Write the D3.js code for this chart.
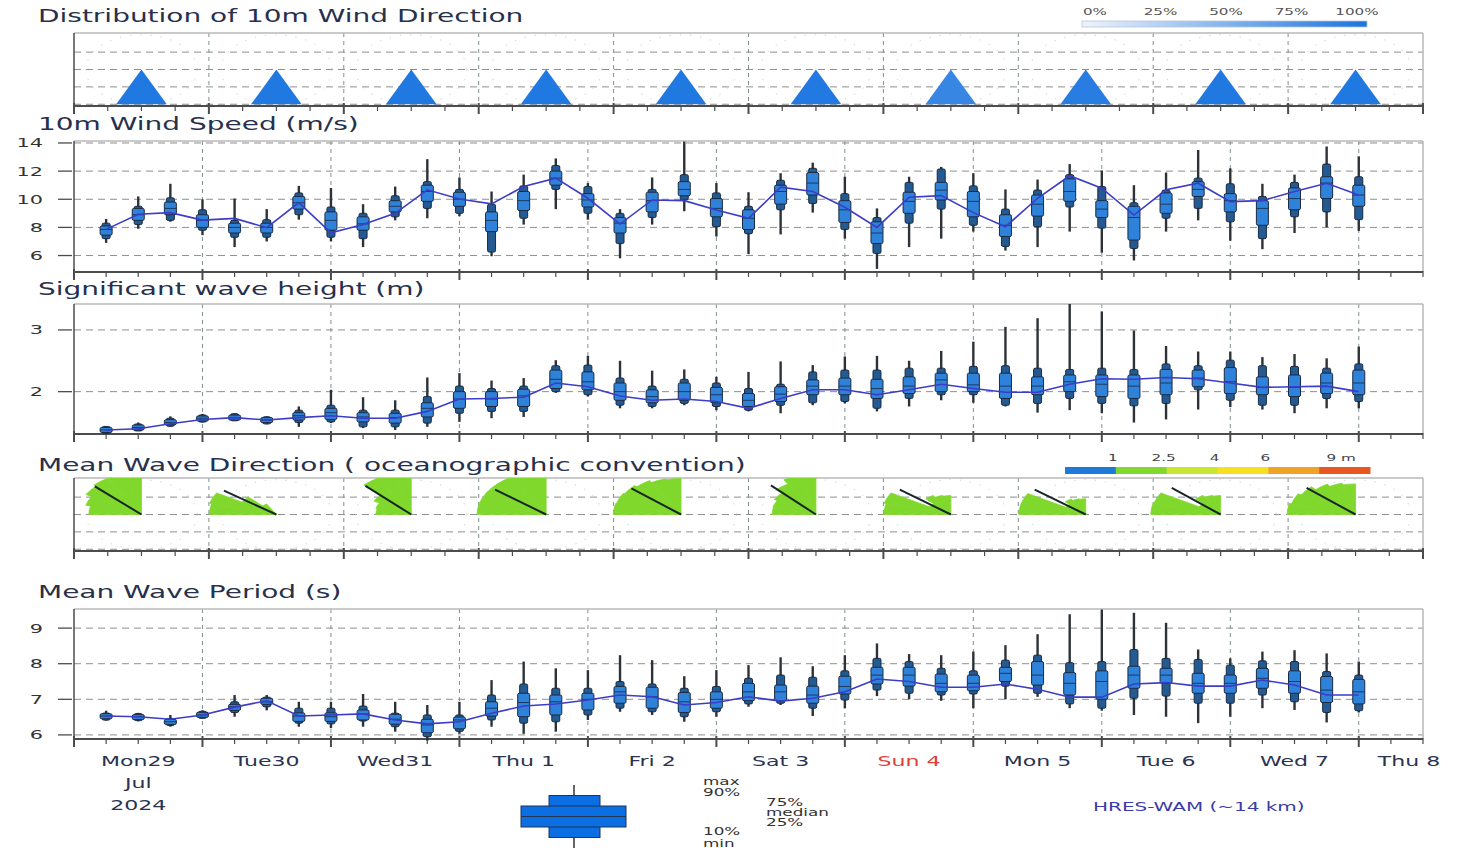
<!DOCTYPE html>
<html><head><meta charset="utf-8">
<script src="https://cdn.jsdelivr.net/npm/d3@7/dist/d3.min.js"></script>
<style>html,body{margin:0;padding:0;background:#fff;overflow:hidden}svg text{font-family:"DejaVu Sans",sans-serif}</style>
</head><body>
<svg id="chart" width="1458" height="848" xmlns="http://www.w3.org/2000/svg"></svg>
<script>
// ================= DATA =================
const runStart = "2024-07-29T00:00:00Z";
const runEnd   = "2024-08-08T12:00:00Z";
const leadHours = [6,12,18,24,30,36,42,48,54,60,66,72,78,84,90,96,102,108,114,120,
                   126,132,138,144,150,156,162,168,174,180,186,192,198,204,210,216,222,228,234,240];
const dayLabels = ["Mon29","Tue30","Wed31","Thu 1","Fri 2","Sat 3","Sun 4","Mon 5","Tue 6","Wed 7","Thu 8"];
const holidayLabels = ["Sun 4"];
const monthLabel = "Jul";
const yearLabel = "2024";

// 10m wind speed (m/s): ensemble quantiles + HRES
const windMin = [6.9,7.9,8.4,7.45,6.6,7.0,8.55,7.0,6.6,8.5, 8.65,8.8,5.95,8.2,9.3,8.55,5.8,8.2,9.15,7.35, 6.1,7.5,9.05,7.2,5.05,6.6,7.2,7.7,6.35,6.6, 7.7,6.2,5.65,7.7,8.5,7.05,6.45,7.6,8.0,7.75];
const windP10 = [7.2,8.2,8.5,7.8,7.3,7.3,8.9,7.3,7.2,8.75, 9.35,9.0,6.25,8.65,10.7,9.0,6.85,8.7,9.95,8.05, 7.55,9.25,9.7,7.85,6.15,8.3,9.3,8.15,6.65,8.05, 9.45,7.95,6.5,8.65,9.35,8.4,7.2,8.75,9.1,8.55];
const windP25 = [7.45,8.5,8.9,8.0,7.6,7.6,9.3,7.8,7.8,9.1, 9.85,9.5,7.7,9.2,11.0,9.45,7.6,9.1,10.25,8.75, 7.85,9.65,10.3,8.35,6.85,9.0,9.95,8.75,7.35,8.8, 9.85,8.7,7.1,9.0,10.2,9.1,8.15,9.25,10.05,9.5];
const windMed = [7.85,8.9,9.35,8.5,8.0,8.0,9.75,8.5,8.25,9.5, 10.55,10.0,8.5,9.9,11.5,9.95,8.3,9.9,10.7,9.35, 8.65,10.55,11.15,9.25,7.6,9.85,10.65,9.85,8.15,9.65, 10.55,9.3,8.7,9.65,10.7,9.9,9.35,10.05,11.15,10.3];
const windP75 = [8.1,9.35,9.8,8.9,8.3,8.3,10.2,9.1,8.75,9.9, 11.0,10.5,9.1,10.55,12.0,10.4,8.7,10.5,11.25,10.05, 9.25,11.0,11.9,9.9,8.4,10.5,11.2,10.55,8.9,10.3, 11.45,9.9,9.5,10.45,11.25,10.4,9.9,10.8,11.6,11.0];
const windP90 = [8.3,9.5,10.1,9.25,8.5,8.55,10.45,9.45,9.0,10.25, 11.25,10.7,9.65,10.95,12.4,10.9,9.0,10.7,11.75,10.45, 9.5,11.35,12.2,10.4,8.7,11.2,12.15,10.95,9.3,10.65, 11.75,10.9,9.75,10.65,11.5,11.1,10.2,11.2,12.5,11.6];
const windMax = [8.6,10.2,11.1,10.0,10.05,9.3,10.95,10.8,9.65,10.9, 12.85,11.55,10.55,11.75,12.9,11.15,9.3,11.55,14.1,11.15, 10.5,11.85,12.6,11.6,9.35,11.6,12.3,11.85,10.7,11.4, 12.5,12.05,11.0,11.9,13.5,12.2,11.1,11.75,13.75,13.05];
const windHres = [7.86,8.93,9.05,8.52,8.64,7.98,9.76,7.62,8.21,9.0, 10.67,10.02,9.67,10.9,11.5,10.07,8.24,9.95,9.9,9.24, 8.64,10.86,10.55,9.43,8.0,10.14,10.26,9.05,8.05,10.07, 11.67,10.79,8.88,10.67,11.14,9.83,9.9,10.55,11.14,10.3];
const windTicks = [6,8,10,12,14];

// Significant wave height (m)
const waveMin = [1.35,1.37,1.43,1.50,1.53,1.47,1.43,1.49,1.41,1.38, 1.43,1.51,1.57,1.59,1.98,1.92,1.73,1.73,1.78,1.70, 1.68,1.65,1.78,1.81,1.68,1.76,1.86,1.82,1.76,1.66, 1.70,1.65,1.50,1.55,1.71,1.75,1.71,1.65,1.73,1.73];
const waveP10 = [1.36,1.39,1.44,1.51,1.54,1.49,1.50,1.51,1.43,1.43, 1.49,1.65,1.68,1.68,2.00,1.95,1.78,1.76,1.81,1.76, 1.70,1.78,1.82,1.84,1.73,1.89,1.95,1.95,1.78,1.81, 1.89,1.81,1.77,1.81,2.03,1.86,1.78,1.78,1.89,1.84];
const waveP25 = [1.37,1.40,1.47,1.53,1.55,1.51,1.54,1.55,1.51,1.49, 1.59,1.73,1.76,1.76,2.05,2.03,1.86,1.82,1.86,1.82, 1.76,1.84,1.95,1.95,1.89,1.97,2.00,2.00,1.89,1.95, 2.00,1.92,1.89,1.95,2.08,1.97,1.95,1.92,1.97,1.95];
const waveMed = [1.38,1.42,1.50,1.57,1.58,1.54,1.61,1.66,1.59,1.58, 1.73,1.88,1.88,1.93,2.20,2.16,2.00,1.92,2.00,1.95, 1.86,1.96,2.09,2.09,2.05,2.09,2.19,2.11,2.09,2.09, 2.16,2.12,2.09,2.14,2.22,2.16,2.07,2.07,2.14,2.14];
const waveP75 = [1.39,1.44,1.54,1.60,1.61,1.57,1.66,1.73,1.66,1.65, 1.82,2.00,2.00,2.04,2.35,2.32,2.14,2.03,2.14,2.07, 1.97,2.08,2.19,2.22,2.20,2.24,2.30,2.30,2.30,2.24, 2.27,2.27,2.27,2.36,2.35,2.39,2.24,2.27,2.30,2.35];
const waveP90 = [1.40,1.45,1.57,1.62,1.63,1.58,1.70,1.78,1.70,1.70, 1.92,2.09,2.05,2.09,2.42,2.43,2.22,2.09,2.20,2.14, 2.05,2.12,2.32,2.35,2.35,2.38,2.38,2.41,2.42,2.38, 2.36,2.38,2.36,2.45,2.42,2.51,2.42,2.41,2.38,2.45];
const waveMax = [1.42,1.50,1.60,1.64,1.65,1.60,1.76,2.03,1.91,1.86, 2.23,2.30,2.18,2.22,2.51,2.58,2.50,2.34,2.36,2.24, 2.32,2.49,2.43,2.57,2.58,2.50,2.66,2.81,3.05,3.19, 3.42,3.30,2.99,2.74,2.65,2.65,2.56,2.61,2.54,2.73];
const waveHres = [1.38,1.40,1.48,1.55,1.58,1.54,1.58,1.61,1.57,1.57, 1.68,1.88,1.89,1.91,2.14,2.08,1.93,1.86,1.88,1.84, 1.73,1.89,2.03,2.03,1.95,2.03,2.12,2.05,1.99,1.99, 2.12,2.21,2.20,2.23,2.21,2.14,2.07,2.08,2.09,2.00];
const waveTicks = [2,3];

// Mean wave period (s)
const perMin = [6.40,6.38,6.23,6.46,6.51,6.69,6.23,6.19,6.23,6.09, 5.84,6.03,6.23,6.03,6.09,6.42,6.65,6.56,6.37,6.51, 6.79,6.84,6.53,6.75,7.09,7.00,6.96,6.75,7.00,7.07, 6.75,6.68,6.56,6.51,6.33,6.51,6.75,6.70,6.35,6.63];
const perP10 = [6.43,6.43,6.28,6.49,6.63,6.79,6.33,6.31,6.39,6.23, 5.95,6.10,6.42,6.33,6.37,6.56,6.75,6.65,6.51,6.65, 6.87,6.89,6.75,6.98,7.26,7.17,7.12,7.15,7.37,7.17, 6.87,6.75,7.03,7.09,6.89,6.89,7.12,6.93,6.63,6.68];
const perP25 = [6.47,6.45,6.33,6.51,6.69,6.86,6.38,6.38,6.42,6.30, 6.06,6.17,6.53,6.51,6.56,6.70,6.89,6.75,6.63,6.75, 6.96,6.96,6.89,7.15,7.43,7.37,7.21,7.24,7.50,7.40, 7.12,7.00,7.31,7.45,7.17,7.17,7.31,7.17,6.91,6.87];
const perMed = [6.53,6.51,6.37,6.56,6.79,6.93,6.53,6.51,6.59,6.44, 6.28,6.42,6.75,6.91,6.93,7.00,7.21,7.07,6.93,7.00, 7.21,7.21,7.12,7.36,7.68,7.68,7.45,7.45,7.73,7.68, 7.45,7.50,7.68,7.68,7.45,7.45,7.59,7.50,7.26,7.21];
const perP75 = [6.58,6.55,6.40,6.62,6.86,7.03,6.62,6.62,6.70,6.58, 6.44,6.50,6.93,7.17,7.12,7.17,7.36,7.34,7.19,7.21, 7.45,7.40,7.37,7.65,7.90,7.90,7.71,7.68,7.90,8.06, 7.75,7.80,7.93,7.87,7.73,7.68,7.87,7.80,7.64,7.56];
const perP90 = [6.60,6.57,6.45,6.64,6.93,7.06,6.75,6.75,6.81,6.61, 6.56,6.56,7.12,7.43,7.31,7.31,7.50,7.43,7.31,7.36, 7.59,7.68,7.62,7.80,8.15,8.06,7.87,7.80,8.10,8.24, 8.03,8.06,8.40,8.15,8.12,7.96,8.08,8.06,7.78,7.68];
const perMax = [6.68,6.62,6.56,6.69,7.12,7.12,6.93,6.93,7.15,6.93, 6.84,6.93,7.54,8.06,7.87,7.82,8.24,8.10,7.65,7.82, 7.96,8.18,7.93,8.24,8.57,8.27,8.24,8.34,8.52,8.83, 9.39,9.52,9.43,9.15,8.40,8.15,8.34,8.38,8.29,8.06];
const perHres = [6.53,6.51,6.44,6.56,6.78,6.96,6.53,6.56,6.59,6.42, 6.31,6.37,6.61,6.81,6.87,6.98,7.12,7.07,6.84,6.91, 7.07,6.95,7.03,7.21,7.57,7.50,7.34,7.34,7.43,7.28, 7.06,7.06,7.43,7.47,7.37,7.37,7.54,7.40,7.12,7.12];
const perTicks = [6,7,8,9];

// Daily 10m wind direction distribution (dominant sector, degrees; probability %)
const windDirMode   = [180,180,180,180,180,180,180,180,180,180];
const windDirSpread = [24.5,24.5,24.5,24.5,24.5,24.5,24.5,24.5,24.5,24.5];
const windDirProb   = [97,97,97,97,97,96,86,93,97,97];
const windLegendTicks = [0,25,50,75,100];

// Daily mean wave direction rose (15-degree sectors from 270 to 360, relative frequency %)
const waveRoseSectors = [270,285,300,315,330,345];
const waveRose = [
  [73,80,89,93,93,93],
  [93,96,55,27,0,0],
  [49,51,60,93,96,96],
  [96,96,96,96,96,96],
  [94,93,91,87,82,80],
  [61,62,67,78,89,93],
  [93,96,34,49,44,42],
  [93,93,32,40,36,35],
  [97,96,34,49,44,42],
  [95,92,87,78,72,68]
];
const waveDirHres = [314,306,315,308,310,316,308,308,311,311];
const waveClassBreaks = [1,2.5,4,6,9];
const waveClassLabels = ["1","2.5","4","6","9 m"];
const waveClassColors = ["#1f79d8","#80d82c","#c8e532","#f7df22","#f0a326","#e8571f"];

const legendQuantiles = ["min","10%","25%","median","75%","90%","max"];

// ================= DRAWING =================
const svg = d3.select("#chart");
svg.append("rect").attr("width",1458).attr("height",848).attr("fill","#fff");
const SX = 1.6;            // horizontal text stretch of the original graphic
const X0 = 74, X1 = 1423;
const GRID = "#8f8f8f", AXIS = "#4c4c4c", FRAME = "#b8b8b8", TITLE = "#27304c";

function label(g, x, y, s, size, fill, anchor) {
  return g.append("text")
    .attr("transform", `translate(${x},${y}) scale(${SX},1)`)
    .attr("font-size", size).attr("fill", fill || "#333")
    .attr("text-anchor", anchor || "start").text(s);
}

const t0 = new Date(runStart), t1 = new Date(runEnd);
const x = d3.scaleUtc().domain([t0, t1]).range([X0, X1]);
const times = leadHours.map(h => d3.utcHour.offset(t0, h));
const sixHourly = d3.utcHour.every(6).range(t0, d3.utcHour.offset(t1, 1));
const midnights = d3.utcDay.range(d3.utcHour.offset(t0, 1), d3.utcHour.offset(t1, 1));
const cell = d3.scaleBand().domain(dayLabels.slice(0, 10)).range([X0, X1]);
const cellCenter = d => cell(d) + cell.bandwidth() / 2;
const rScale = d3.scaleLinear().domain([0, 100]).range([0, 45]);

function bottomAxis(g, yb, ticks) {
  g.append("line").attr("x1", X0).attr("x2", X1).attr("y1", yb).attr("y2", yb)
    .attr("stroke", AXIS).attr("stroke-width", 2);
  g.selectAll(null).data(ticks).join("line")
    .attr("x1", d => d.x).attr("x2", d => d.x)
    .attr("y1", d => yb - (d.major ? 3 : 1)).attr("y2", d => yb + (d.major ? 8 : 5))
    .attr("stroke", AXIS).attr("stroke-width", d => d.major ? 2 : 1.2);
}
function frame(g, top, bottom) {
  g.append("line").attr("x1", X0).attr("x2", X1).attr("y1", top).attr("y2", top).attr("stroke", FRAME).attr("stroke-width", 1.5);
  g.append("line").attr("x1", X1).attr("x2", X1).attr("y1", top).attr("y2", bottom).attr("stroke", FRAME).attr("stroke-width", 1.5);
  g.append("line").attr("x1", X0).attr("x2", X0).attr("y1", top).attr("y2", bottom).attr("stroke", AXIS).attr("stroke-width", 1.5);
}

// ---------- box-plot panels ----------
function boxPanel(cfg) {
  const { top, bottom, domain, ticks, title, titleY, s } = cfg;
  const y = d3.scaleLinear().domain(domain).range([bottom, top]);
  const g = svg.append("g");
  label(svg, 38, titleY, title, 17.5, TITLE);
  g.selectAll(null).data(ticks).join("line")
    .attr("x1", X0).attr("x2", X1).attr("y1", d => y(d)).attr("y2", d => y(d))
    .attr("stroke", GRID).attr("stroke-dasharray", "7,5");
  g.selectAll(null).data(midnights).join("line")
    .attr("x1", d => x(d)).attr("x2", d => x(d)).attr("y1", top).attr("y2", bottom)
    .attr("stroke", "#7f8f8f").attr("stroke-dasharray", "4,4");
  frame(g, top, bottom);
  g.selectAll(null).data(ticks).join("line")
    .attr("x1", X0 - 16).attr("x2", X0 - 2).attr("y1", d => y(d)).attr("y2", d => y(d))
    .attr("stroke", AXIS).attr("stroke-width", 1.3);
  ticks.forEach(t => label(g, 43, y(t) + 4.5, String(t), 13, "#333", "end"));
  bottomAxis(g, bottom, sixHourly.map(d => ({ x: x(d), major: d.getUTCHours() === 0 })));

  const idx = d3.range(times.length);
  const span = (lo, hi, minH) => {
    let a = y(hi), h = y(lo) - y(hi);
    if (h < minH) { a = (y(hi) + y(lo)) / 2 - minH / 2; h = minH; }
    return [a, h];
  };
  const bg = g.append("g");
  bg.selectAll(null).data(idx).join("line")
    .attr("x1", i => x(times[i])).attr("x2", i => x(times[i]))
    .attr("y1", i => y(s.max[i])).attr("y2", i => y(s.min[i]))
    .attr("stroke", "#2c3238").attr("stroke-width", 2.4);
  bg.selectAll(null).data(idx).join("rect")
    .attr("x", i => x(times[i]) - 4).attr("width", 8)
    .attr("y", i => span(s.p10[i], s.p90[i], 7)[0]).attr("height", i => span(s.p10[i], s.p90[i], 7)[1])
    .attr("rx", 1.5).attr("fill", "#245a92").attr("stroke", "#1b2a40").attr("stroke-width", 1);
  bg.selectAll(null).data(idx).join("rect")
    .attr("x", i => x(times[i]) - 6).attr("width", 12)
    .attr("y", i => span(s.p25[i], s.p75[i], 5)[0]).attr("height", i => span(s.p25[i], s.p75[i], 5)[1])
    .attr("rx", 1.5).attr("fill", "#2f82d9").attr("stroke", "#1b2a40").attr("stroke-width", 1);
  bg.selectAll(null).data(idx).join("line")
    .attr("x1", i => x(times[i]) - 6).attr("x2", i => x(times[i]) + 6)
    .attr("y1", i => y(s.med[i])).attr("y2", i => y(s.med[i]))
    .attr("stroke", "#1d3a5e").attr("stroke-width", 1);
  g.append("path").datum(idx)
    .attr("d", d3.line().x(i => x(times[i])).y(i => y(s.hres[i])))
    .attr("fill", "none").attr("stroke", "#3c3cc8").attr("stroke-width", 1.6);
}

boxPanel({ top: 141, bottom: 272, domain: [4.83, 14.14], ticks: windTicks, title: "10m Wind Speed (m/s)", titleY: 130,
  s: { min: windMin, p10: windP10, p25: windP25, med: windMed, p75: windP75, p90: windP90, max: windMax, hres: windHres } });
boxPanel({ top: 304, bottom: 434, domain: [1.314, 3.42], ticks: waveTicks, title: "Significant wave height (m)", titleY: 295,
  s: { min: waveMin, p10: waveP10, p25: waveP25, med: waveMed, p75: waveP75, p90: waveP90, max: waveMax, hres: waveHres } });
boxPanel({ top: 609, bottom: 739, domain: [5.885, 9.537], ticks: perTicks, title: "Mean Wave Period (s)", titleY: 598,
  s: { min: perMin, p10: perP10, p25: perP25, med: perMed, p75: perP75, p90: perP90, max: perMax, hres: perHres } });

// ---------- rose panels ----------
const defs = svg.append("defs");
function rosePanel(id, top, bottom, title, titleY, clipTop, clipBottom) {
  const g = svg.append("g");
  label(svg, 38, titleY, title, 17.5, TITLE);
  const ry = d3.scaleLinear().domain([-2.1, 2.1]).range([bottom, top]);
  const cy = ry(0);
  g.selectAll(null).data([1, 0, -1, -2]).join("line")
    .attr("x1", X0).attr("x2", X1).attr("y1", d => ry(d)).attr("y2", d => ry(d))
    .attr("stroke", GRID).attr("stroke-dasharray", "7,5");
  g.selectAll(null).data(dayLabels.slice(1, 10)).join("line")
    .attr("x1", d => cell(d)).attr("x2", d => cell(d)).attr("y1", top).attr("y2", bottom)
    .attr("stroke", "#7f8f8f").attr("stroke-dasharray", "4,4");
  // faint dotted range rings
  g.selectAll(null).data(dayLabels.slice(0, 10)).join("ellipse")
    .attr("cx", d => cellCenter(d)).attr("cy", cy)
    .attr("rx", (ry(-2) - cy) * SX).attr("ry", ry(-2) - cy)
    .attr("fill", "none").attr("stroke", "#c9c9c9").attr("stroke-dasharray", "1.2,9");
  frame(g, top, bottom);
  const ticks = [];
  dayLabels.slice(0, 10).forEach(d => { for (let k = 0; k < 4; k++) ticks.push({ x: cell(d) + k * cell.bandwidth() / 4, major: k === 0 }); });
  ticks.push({ x: X1, major: true });
  bottomAxis(g, bottom, ticks);
  defs.append("clipPath").attr("id", id).append("rect")
    .attr("x", X0).attr("width", X1 - X0).attr("y", clipTop(ry)).attr("height", clipBottom(ry) - clipTop(ry));
  const inner = g.append("g").attr("clip-path", `url(#${id})`);
  return { inner, cy };
}

// Wind direction
const wd = rosePanel("clipWind", 33, 106, "Distribution of 10m Wind Direction", 22, ry => ry(2.1), ry => ry(-2));
const windColor = d3.scaleLinear().domain([0, 100]).range(["#eef4fc", "#1a74e0"]);
const arc = d3.arc().innerRadius(0);
const rad = deg => deg * Math.PI / 180;
wd.inner.selectAll(null).data(dayLabels.slice(0, 10)).join("path")
  .attr("transform", d => `translate(${cellCenter(d)},${wd.cy}) scale(${SX},1)`)
  .attr("d", (d, i) => arc({ outerRadius: rScale(windDirProb[i]), startAngle: rad(windDirMode[i] - windDirSpread[i]), endAngle: rad(windDirMode[i] + windDirSpread[i]) }))
  .attr("fill", (d, i) => windColor(windDirProb[i]));

// wind legend
const wl = d3.scaleLinear().domain([0, 100]).range([1082, 1367]);
const grad = defs.append("linearGradient").attr("id", "windGrad");
grad.append("stop").attr("offset", "0%").attr("stop-color", windColor(0));
grad.append("stop").attr("offset", "100%").attr("stop-color", windColor(100));
svg.append("rect").attr("x", wl(0)).attr("y", 21).attr("width", wl(100) - wl(0)).attr("height", 6)
  .attr("fill", "url(#windGrad)").attr("stroke", "#b9c6d6").attr("stroke-width", 0.8);
const wlLab = d3.scaleLinear().domain([0, 100]).range([1095, 1357]);
windLegendTicks.forEach(v => label(svg, wlLab(v), 15, v + "%", 9.5, "#555", "middle"));

// Wave direction
const wv = rosePanel("clipWave", 478, 551, "Mean Wave Direction ( oceanographic convention)", 471, ry => ry(2.1), ry => ry(-2.1));
const waveColor = d3.scaleThreshold().domain(waveClassBreaks).range(waveClassColors);
dayLabels.slice(0, 10).forEach((d, i) => {
  const dayHs = d3.mean(waveMed.slice(Math.max(0, i * 4 - 1), i * 4 + 3));
  const gg = wv.inner.append("g").attr("transform", `translate(${cellCenter(d)},${wv.cy}) scale(${SX},1)`);
  gg.selectAll(null).data(waveRose[i]).join("path")
    .attr("d", (r, j) => arc({ outerRadius: rScale(r), startAngle: rad(waveRoseSectors[j]), endAngle: rad(waveRoseSectors[j] + 15) }))
    .attr("fill", waveColor(dayHs)).attr("stroke", waveColor(dayHs)).attr("stroke-width", 0.6);
  const L = rScale(90);
  gg.append("line").attr("x1", 0).attr("y1", 0)
    .attr("x2", L * Math.sin(rad(waveDirHres[i]))).attr("y2", -L * Math.cos(rad(waveDirHres[i])))
    .attr("stroke", "#17262a").attr("stroke-width", 2).attr("vector-effect", "non-scaling-stroke");
});

// wave height legend
const hl = d3.scaleLinear().domain([0, waveClassColors.length]).range([1065, 1370]);
svg.selectAll(null).data(waveClassColors).join("rect")
  .attr("x", (c, i) => hl(i)).attr("width", hl(1) - hl(0) + 0.5).attr("y", 467).attr("height", 7).attr("fill", c => c);
waveClassLabels.forEach((s, i) => label(svg, hl(i + 1) + (i === waveClassLabels.length - 1 ? 22 : -3), 461, s, 9.5, "#444", "middle"));

// ---------- bottom date labels ----------
dayLabels.forEach((d, i) => {
  const cx = Math.min(x(d3.utcHour.offset(d3.utcDay.offset(t0, i), 12)), X1 - 14);
  label(svg, cx, 766, d, 13.8, holidayLabels.includes(d) ? "#e0403a" : "#2a3350", "middle");
});
const c0 = x(d3.utcHour.offset(t0, 12));
label(svg, c0, 788, monthLabel, 13.8, "#2a3350", "middle");
label(svg, c0, 810, yearLabel, 13.8, "#2a3350", "middle");

// ---------- quantile legend ----------
const ly = d3.scaleLinear().domain([0, legendQuantiles.length - 1]).range([848, 785]);
const lx = 574;
svg.append("line").attr("x1", lx).attr("x2", lx).attr("y1", ly(6)).attr("y2", ly(0)).attr("stroke", "#333").attr("stroke-width", 1.5);
svg.append("rect").attr("x", lx - 25).attr("width", 51).attr("y", ly(5)).attr("height", ly(1) - ly(5))
  .attr("fill", "#0b6fe3").attr("stroke", "#1e3556");
svg.append("rect").attr("x", lx - 53).attr("width", 105).attr("y", ly(4)).attr("height", ly(2) - ly(4))
  .attr("fill", "#0b6fe3").attr("stroke", "#1e3556");
svg.append("line").attr("x1", lx - 53).attr("x2", lx + 52).attr("y1", ly(3)).attr("y2", ly(3)).attr("stroke", "#1e3556").attr("stroke-width", 1.2);
const legendBase = [847, 835, 826, 816, 806, 796, 785];
legendQuantiles.forEach((q, i) => {
  const innerQ = i >= 2 && i <= 4;
  label(svg, innerQ ? 766 : 703, legendBase[i], q, 10.5, "#333", "start");
});
label(svg, 1093, 811, "HRES-WAM (~14 km)", 12.5, "#3a3aa8", "start");
</script>
</body></html>
